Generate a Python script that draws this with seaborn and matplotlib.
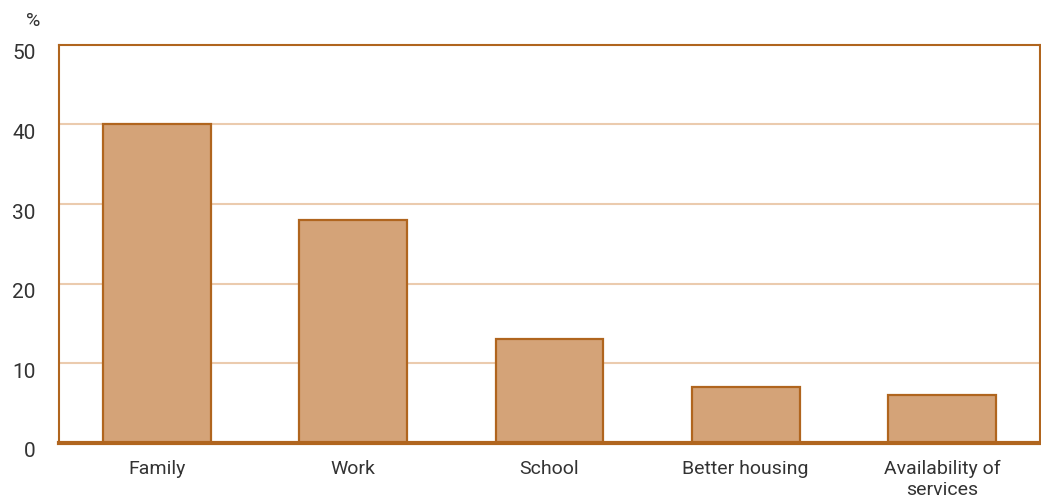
import matplotlib
matplotlib.use("Agg")
import matplotlib.pyplot as plt
import matplotlib.transforms as mtransforms
import seaborn as sns
import pandas as pd

# Datos del grafico
razones = ["Family", "Work", "School", "Better housing", "Availability of\nservices"]
porcentajes = [40, 28, 13, 7, 6]
yticks = [0, 10, 20, 30, 40, 50]

color_barra = "#D4A378"
color_borde = "#B0651E"
color_grid = "#EBCBAE"

sns.set_style("white")
plt.rcParams["font.family"] = ["Roboto", "DejaVu Sans"]

df = pd.DataFrame({"razon": razones, "pct": porcentajes})

fig = plt.figure(figsize=(10.41, 5.04), dpi=100)
ax = fig.add_axes([0.0567, 0.121, 0.9423, 0.79])

sns.barplot(data=df, x="razon", y="pct", color=color_barra, edgecolor=color_borde,
            linewidth=1.6, width=0.55, saturation=1, ax=ax, zorder=3)

ax.set_ylim(0, 50)
ax.set_xlim(-0.5, 4.5)
ax.set_yticks(yticks)
for y in yticks[1:-1]:
    ax.axhline(y, color=color_grid, lw=1.5, zorder=1)

for lado in ["top", "right", "left"]:
    ax.spines[lado].set_color(color_borde)
    ax.spines[lado].set_linewidth(1.5)
ax.spines["bottom"].set_color(color_borde)
ax.spines["bottom"].set_linewidth(3)
ax.spines["bottom"].set_zorder(5)

ax.tick_params(axis="y", length=0, pad=17, labelsize=15, labelcolor="#333333")
ax.tick_params(axis="x", length=0, pad=12, labelsize=14, labelcolor="#333333")
desplaza = mtransforms.ScaledTranslation(0, -5 / 72, fig.dpi_scale_trans)
for lab in ax.get_yticklabels():
    lab.set_transform(lab.get_transform() + desplaza)

ax.set_xlabel("")
ax.set_ylabel("")
fig.text(0.025, 0.958, "%", fontsize=14, color="#333333", ha="left", va="center")

fig.savefig("out.png", dpi=100)
